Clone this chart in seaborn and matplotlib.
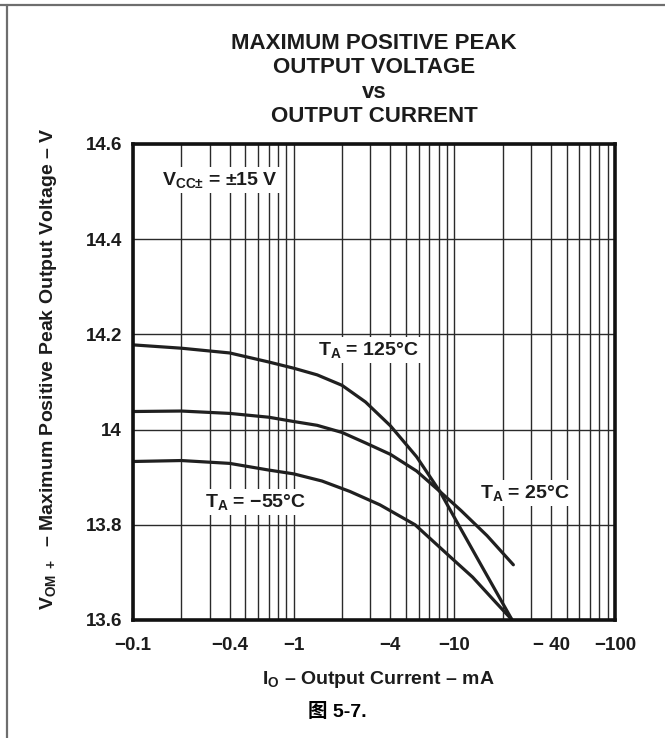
import numpy as np
import pandas as pd
import matplotlib
matplotlib.use("Agg")
import matplotlib.pyplot as plt
from matplotlib.ticker import FixedLocator, FixedFormatter, LogLocator, NullFormatter
from matplotlib.lines import Line2D
import seaborn as sns

# ---- data ----
current_125 = [-0.1, -0.2, -0.4, -0.7, -1.0, -1.4, -2.0, -2.8, -4.0, -5.82, -8.13, -10.1, -15.1, -22.9]
vout_125 = [14.178, 14.171, 14.161, 14.142, 14.129, 14.115, 14.093, 14.058, 14.008, 13.943, 13.870, 13.813, 13.708, 13.600]

current_25 = [-0.1, -0.2, -0.4, -0.7, -1.0, -1.4, -2.0, -2.8, -4.0, -5.82, -8.13, -11.0, -16.0, -23.3]
vout_25 = [14.038, 14.039, 14.034, 14.026, 14.017, 14.009, 13.994, 13.972, 13.948, 13.913, 13.870, 13.830, 13.777, 13.716]

current_m55 = [-0.1, -0.2, -0.4, -0.7, -1.0, -1.5, -2.24, -3.44, -5.7, -9.4, -13.0, -18.0, -22.9]
vout_m55 = [13.933, 13.935, 13.929, 13.915, 13.907, 13.892, 13.870, 13.842, 13.800, 13.733, 13.690, 13.638, 13.600]

x_ticks = [0.1, 0.4, 1, 4, 10, 40, 100]
x_tick_labels = ["\u22120.1", "\u22120.4", "\u22121", "\u22124", "\u221210", "\u2212 40", "\u2212100"]
y_ticks = [13.6, 13.8, 14.0, 14.2, 14.4, 14.6]
y_tick_labels = ["13.6", "13.8", "14", "14.2", "14.4", "14.6"]

title_lines = ["MAXIMUM POSITIVE PEAK", "OUTPUT VOLTAGE", "vs", "OUTPUT CURRENT"]

# ---- table ----
frames = []
for name, cur, v in [("125", current_125, vout_125), ("25", current_25, vout_25), ("-55", current_m55, vout_m55)]:
    frames.append(pd.DataFrame({"current": cur, "magnitude": np.abs(cur), "vout": v, "temp": name}))
df = pd.concat(frames, ignore_index=True)

sns.set_theme(style="white")
plt.rcParams["font.family"] = ["Liberation Sans", "Noto Sans CJK SC", "DejaVu Sans"]
plt.rcParams["font.weight"] = "bold"
plt.rcParams["mathtext.fontset"] = "custom"
plt.rcParams["mathtext.rm"] = "Liberation Sans:bold"
plt.rcParams["mathtext.bf"] = "Liberation Sans:bold"
plt.rcParams["mathtext.it"] = "Liberation Sans:bold"
plt.rcParams["mathtext.default"] = "rm"

TXT = "#1c1c1c"

fig = plt.figure(figsize=(6.65, 7.38), dpi=100)
ax = fig.add_axes([133/665, (738-620)/738, (615-133)/665, (620-144)/738])

sns.lineplot(data=df, x="magnitude", y="vout", hue="temp", palette=["#202020"]*3,
             estimator=None, legend=False, linewidth=2.3, ax=ax, zorder=5,
             solid_capstyle="round", solid_joinstyle="round")

ax.set_xscale("log")
ax.set_xlim(0.1, 100)
ax.set_ylim(13.6, 14.6)

ax.xaxis.set_major_locator(FixedLocator(x_ticks))
ax.xaxis.set_major_formatter(FixedFormatter(x_tick_labels))
ax.xaxis.set_minor_locator(LogLocator(base=10, subs=np.arange(2, 10)))
ax.xaxis.set_minor_formatter(NullFormatter())
ax.yaxis.set_major_locator(FixedLocator(y_ticks))
ax.yaxis.set_major_formatter(FixedFormatter(y_tick_labels))

ax.tick_params(axis="both", which="both", length=0, labelsize=13.5, colors=TXT)
ax.tick_params(axis="x", pad=12)
ax.tick_params(axis="y", pad=8)
for lab in ax.get_xticklabels() + ax.get_yticklabels():
    lab.set_fontweight("bold")

ax.grid(True, which="both", axis="x", color="#2a2a2a", linewidth=1.0)
ax.grid(True, which="major", axis="y", color="#2a2a2a", linewidth=1.0)
ax.set_axisbelow(True)
for s in ax.spines.values():
    s.set_color("#111111")
    s.set_linewidth(2.6)
    s.set_zorder(6)

ax.set_xlabel("I$_{\\mathrm{O}}$ \u2013 Output Current \u2013 mA",
              fontsize=14, fontweight="bold", color=TXT)
ax.xaxis.set_label_coords(0.508, -0.103)
ax.set_ylabel("V$_{\\mathrm{OM\\ +}}$  \u2013 Maximum Positive Peak Output Voltage \u2013 V",
              fontsize=14, fontweight="bold", color=TXT)
ax.yaxis.set_label_coords(-0.176, 0.528)
ax.yaxis.label.set_va("center")

ax.set_title("\n".join(title_lines), fontsize=16, fontweight="bold", color=TXT,
             pad=16, linespacing=1.2)

bbox = dict(facecolor="white", edgecolor="none", pad=2.0)
ax.text(0.18, 0.924, "V$_{\\mathrm{CC\u00b1}}$ = \u00b115 V", transform=ax.transAxes,
        ha="center", va="center", fontsize=14, fontweight="bold", color=TXT, bbox=bbox, zorder=4)
ax.text(0.488, 0.567, "T$_{\\mathrm{A}}$ = 125\u00b0C", transform=ax.transAxes,
        ha="center", va="center", fontsize=14, fontweight="bold", color=TXT, bbox=bbox, zorder=4)
ax.text(0.255, 0.248, "T$_{\\mathrm{A}}$ = \u221255\u00b0C", transform=ax.transAxes,
        ha="center", va="center", fontsize=14, fontweight="bold", color=TXT, bbox=bbox, zorder=4)
ax.text(0.813, 0.267, "T$_{\\mathrm{A}}$ = 25\u00b0C", transform=ax.transAxes,
        ha="center", va="center", fontsize=14, fontweight="bold", color=TXT, bbox=bbox, zorder=4)

fig.text(337/665, 1 - 712/738, "图 5-7.", ha="center", va="center", fontsize=14,
         fontweight="bold", color="#000000",
         family=["Liberation Sans", "Noto Sans CJK SC", "DejaVu Sans"])

# page frame lines
fig.add_artist(Line2D([0, 1], [1 - 5/738, 1 - 5/738], transform=fig.transFigure,
                      color="#6e6e6e", linewidth=1.6))
fig.add_artist(Line2D([7/665, 7/665], [0, 1 - 5/738], transform=fig.transFigure,
                      color="#6e6e6e", linewidth=1.6))

fig.savefig("out.png", dpi=100, facecolor="white")
